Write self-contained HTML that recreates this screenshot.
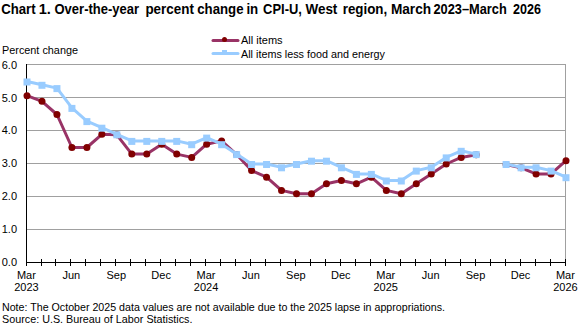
<!DOCTYPE html>
<html><head><meta charset="utf-8"><style>
html,body{margin:0;padding:0;background:#fff;}
body{width:586px;height:326px;overflow:hidden;}
svg{display:block;}
.t{font-family:"Liberation Sans",sans-serif;font-size:11px;fill:#000;}
.b{font-family:"Liberation Sans",sans-serif;font-size:14px;font-weight:bold;fill:#000;}
</style></head><body>
<svg width="586" height="326" viewBox="0 0 586 326">
<line x1="27" y1="229.5" x2="566" y2="229.5" stroke="#a0a0a0" stroke-width="1"/>
<line x1="27" y1="196.5" x2="566" y2="196.5" stroke="#a0a0a0" stroke-width="1"/>
<line x1="27" y1="163.5" x2="566" y2="163.5" stroke="#a0a0a0" stroke-width="1"/>
<line x1="27" y1="130.5" x2="566" y2="130.5" stroke="#a0a0a0" stroke-width="1"/>
<line x1="27" y1="97.5" x2="566" y2="97.5" stroke="#a0a0a0" stroke-width="1"/>
<line x1="27" y1="64.5" x2="566" y2="64.5" stroke="#a0a0a0" stroke-width="1"/>
<line x1="565.5" y1="64" x2="565.5" y2="262" stroke="#a0a0a0" stroke-width="1"/>
<line x1="26.5" y1="64" x2="26.5" y2="266" stroke="#000" stroke-width="1"/>
<line x1="26" y1="262.5" x2="566" y2="262.5" stroke="#000" stroke-width="1"/>
<line x1="26.5" y1="259" x2="26.5" y2="266" stroke="#000" stroke-width="1"/>
<line x1="41.5" y1="259" x2="41.5" y2="266" stroke="#000" stroke-width="1"/>
<line x1="55.5" y1="259" x2="55.5" y2="266" stroke="#000" stroke-width="1"/>
<line x1="70.5" y1="259" x2="70.5" y2="266" stroke="#000" stroke-width="1"/>
<line x1="85.5" y1="259" x2="85.5" y2="266" stroke="#000" stroke-width="1"/>
<line x1="100.5" y1="259" x2="100.5" y2="266" stroke="#000" stroke-width="1"/>
<line x1="115.5" y1="259" x2="115.5" y2="266" stroke="#000" stroke-width="1"/>
<line x1="130.5" y1="259" x2="130.5" y2="266" stroke="#000" stroke-width="1"/>
<line x1="145.5" y1="259" x2="145.5" y2="266" stroke="#000" stroke-width="1"/>
<line x1="160.5" y1="259" x2="160.5" y2="266" stroke="#000" stroke-width="1"/>
<line x1="175.5" y1="259" x2="175.5" y2="266" stroke="#000" stroke-width="1"/>
<line x1="190.5" y1="259" x2="190.5" y2="266" stroke="#000" stroke-width="1"/>
<line x1="205.5" y1="259" x2="205.5" y2="266" stroke="#000" stroke-width="1"/>
<line x1="220.5" y1="259" x2="220.5" y2="266" stroke="#000" stroke-width="1"/>
<line x1="235.5" y1="259" x2="235.5" y2="266" stroke="#000" stroke-width="1"/>
<line x1="250.5" y1="259" x2="250.5" y2="266" stroke="#000" stroke-width="1"/>
<line x1="265.5" y1="259" x2="265.5" y2="266" stroke="#000" stroke-width="1"/>
<line x1="280.5" y1="259" x2="280.5" y2="266" stroke="#000" stroke-width="1"/>
<line x1="295.5" y1="259" x2="295.5" y2="266" stroke="#000" stroke-width="1"/>
<line x1="310.5" y1="259" x2="310.5" y2="266" stroke="#000" stroke-width="1"/>
<line x1="325.5" y1="259" x2="325.5" y2="266" stroke="#000" stroke-width="1"/>
<line x1="340.5" y1="259" x2="340.5" y2="266" stroke="#000" stroke-width="1"/>
<line x1="355.5" y1="259" x2="355.5" y2="266" stroke="#000" stroke-width="1"/>
<line x1="370.5" y1="259" x2="370.5" y2="266" stroke="#000" stroke-width="1"/>
<line x1="385.5" y1="259" x2="385.5" y2="266" stroke="#000" stroke-width="1"/>
<line x1="400.5" y1="259" x2="400.5" y2="266" stroke="#000" stroke-width="1"/>
<line x1="415.5" y1="259" x2="415.5" y2="266" stroke="#000" stroke-width="1"/>
<line x1="430.5" y1="259" x2="430.5" y2="266" stroke="#000" stroke-width="1"/>
<line x1="445.5" y1="259" x2="445.5" y2="266" stroke="#000" stroke-width="1"/>
<line x1="460.5" y1="259" x2="460.5" y2="266" stroke="#000" stroke-width="1"/>
<line x1="475.5" y1="259" x2="475.5" y2="266" stroke="#000" stroke-width="1"/>
<line x1="490.5" y1="259" x2="490.5" y2="266" stroke="#000" stroke-width="1"/>
<line x1="505.5" y1="259" x2="505.5" y2="266" stroke="#000" stroke-width="1"/>
<line x1="520.5" y1="259" x2="520.5" y2="266" stroke="#000" stroke-width="1"/>
<line x1="535.5" y1="259" x2="535.5" y2="266" stroke="#000" stroke-width="1"/>
<line x1="550.5" y1="259" x2="550.5" y2="266" stroke="#000" stroke-width="1"/>
<line x1="565.5" y1="259" x2="565.5" y2="266" stroke="#000" stroke-width="1"/>
<text x="17" y="265.5" text-anchor="end" class="t">0.0</text>
<text x="17" y="232.5" text-anchor="end" class="t">1.0</text>
<text x="17" y="199.5" text-anchor="end" class="t">2.0</text>
<text x="17" y="166.5" text-anchor="end" class="t">3.0</text>
<text x="17" y="133.5" text-anchor="end" class="t">4.0</text>
<text x="17" y="101.5" text-anchor="end" class="t">5.0</text>
<text x="17" y="68.5" text-anchor="end" class="t">6.0</text>
<text x="26.4" y="279" text-anchor="middle" class="t">Mar</text>
<text x="26.4" y="291" text-anchor="middle" class="t">2023</text>
<text x="71.31666666666666" y="279" text-anchor="middle" class="t">Jun</text>
<text x="116.23333333333333" y="279" text-anchor="middle" class="t">Sep</text>
<text x="161.15" y="279" text-anchor="middle" class="t">Dec</text>
<text x="206.06666666666666" y="279" text-anchor="middle" class="t">Mar</text>
<text x="206.06666666666666" y="291" text-anchor="middle" class="t">2024</text>
<text x="250.98333333333332" y="279" text-anchor="middle" class="t">Jun</text>
<text x="295.9" y="279" text-anchor="middle" class="t">Sep</text>
<text x="340.8166666666666" y="279" text-anchor="middle" class="t">Dec</text>
<text x="385.7333333333333" y="279" text-anchor="middle" class="t">Mar</text>
<text x="385.7333333333333" y="291" text-anchor="middle" class="t">2025</text>
<text x="430.65" y="279" text-anchor="middle" class="t">Jun</text>
<text x="475.5666666666666" y="279" text-anchor="middle" class="t">Sep</text>
<text x="520.4833333333332" y="279" text-anchor="middle" class="t">Dec</text>
<text x="565.4" y="279" text-anchor="middle" class="t">Mar</text>
<text x="565.4" y="291" text-anchor="middle" class="t">2026</text>
<polyline points="27.0,95.69 41.97222222222222,101.30 56.94444444444444,114.50 71.91666666666666,147.50 86.88888888888889,147.50 101.86111111111111,134.30 116.83333333333333,134.80 131.80555555555554,154.10 146.77777777777777,154.10 161.75,144.20 176.72222222222223,154.10 191.69444444444443,157.40 206.66666666666666,144.20 221.63888888888889,140.90 236.6111111111111,154.59 251.58333333333331,170.60 266.55555555555554,177.20 281.52777777777777,190.40 296.5,193.70 311.47222222222223,193.70 326.44444444444446,183.80 341.41666666666663,180.50 356.38888888888886,183.80 371.3611111111111,177.20 386.3333333333333,190.40 401.30555555555554,193.70 416.27777777777777,183.80 431.25,173.90 446.2222222222222,164.00 461.1944444444444,157.40 476.16666666666663,154.76" fill="none" stroke="#993366" stroke-width="3" stroke-linejoin="round" stroke-linecap="round"/>
<polyline points="506.1111111111111,164.50 521.0833333333333,167.80 536.0555555555555,173.90 551.0277777777777,173.90 566.0,160.70" fill="none" stroke="#993366" stroke-width="3" stroke-linejoin="round" stroke-linecap="round"/>
<circle cx="27.0" cy="95.69" r="3.5" fill="#800000"/>
<circle cx="41.97222222222222" cy="101.30" r="3.5" fill="#800000"/>
<circle cx="56.94444444444444" cy="114.50" r="3.5" fill="#800000"/>
<circle cx="71.91666666666666" cy="147.50" r="3.5" fill="#800000"/>
<circle cx="86.88888888888889" cy="147.50" r="3.5" fill="#800000"/>
<circle cx="101.86111111111111" cy="134.30" r="3.5" fill="#800000"/>
<circle cx="116.83333333333333" cy="134.80" r="3.5" fill="#800000"/>
<circle cx="131.80555555555554" cy="154.10" r="3.5" fill="#800000"/>
<circle cx="146.77777777777777" cy="154.10" r="3.5" fill="#800000"/>
<circle cx="161.75" cy="144.20" r="3.5" fill="#800000"/>
<circle cx="176.72222222222223" cy="154.10" r="3.5" fill="#800000"/>
<circle cx="191.69444444444443" cy="157.40" r="3.5" fill="#800000"/>
<circle cx="206.66666666666666" cy="144.20" r="3.5" fill="#800000"/>
<circle cx="221.63888888888889" cy="140.90" r="3.5" fill="#800000"/>
<circle cx="236.6111111111111" cy="154.59" r="3.5" fill="#800000"/>
<circle cx="251.58333333333331" cy="170.60" r="3.5" fill="#800000"/>
<circle cx="266.55555555555554" cy="177.20" r="3.5" fill="#800000"/>
<circle cx="281.52777777777777" cy="190.40" r="3.5" fill="#800000"/>
<circle cx="296.5" cy="193.70" r="3.5" fill="#800000"/>
<circle cx="311.47222222222223" cy="193.70" r="3.5" fill="#800000"/>
<circle cx="326.44444444444446" cy="183.80" r="3.5" fill="#800000"/>
<circle cx="341.41666666666663" cy="180.50" r="3.5" fill="#800000"/>
<circle cx="356.38888888888886" cy="183.80" r="3.5" fill="#800000"/>
<circle cx="371.3611111111111" cy="177.20" r="3.5" fill="#800000"/>
<circle cx="386.3333333333333" cy="190.40" r="3.5" fill="#800000"/>
<circle cx="401.30555555555554" cy="193.70" r="3.5" fill="#800000"/>
<circle cx="416.27777777777777" cy="183.80" r="3.5" fill="#800000"/>
<circle cx="431.25" cy="173.90" r="3.5" fill="#800000"/>
<circle cx="446.2222222222222" cy="164.00" r="3.5" fill="#800000"/>
<circle cx="461.1944444444444" cy="157.40" r="3.5" fill="#800000"/>
<circle cx="476.16666666666663" cy="154.76" r="3.5" fill="#800000"/>
<circle cx="506.1111111111111" cy="164.50" r="3.5" fill="#800000"/>
<circle cx="521.0833333333333" cy="167.80" r="3.5" fill="#800000"/>
<circle cx="536.0555555555555" cy="173.90" r="3.5" fill="#800000"/>
<circle cx="551.0277777777777" cy="173.90" r="3.5" fill="#800000"/>
<circle cx="566.0" cy="160.70" r="3.5" fill="#800000"/>
<polyline points="27.0,81.50 41.97222222222222,84.80 56.94444444444444,88.10 71.91666666666666,107.90 86.88888888888889,121.10 101.86111111111111,127.70 116.83333333333333,134.30 131.80555555555554,140.90 146.77777777777777,140.90 161.75,140.90 176.72222222222223,140.90 191.69444444444443,144.20 206.66666666666666,137.60 221.63888888888889,144.20 236.6111111111111,154.10 251.58333333333331,164.00 266.55555555555554,164.00 281.52777777777777,167.30 296.5,164.00 311.47222222222223,160.70 326.44444444444446,160.70 341.41666666666663,167.30 356.38888888888886,173.90 371.3611111111111,173.90 386.3333333333333,180.50 401.30555555555554,180.50 416.27777777777777,170.60 431.25,167.30 446.2222222222222,157.40 461.1944444444444,150.80 476.16666666666663,154.10" fill="none" stroke="#99ccff" stroke-width="3" stroke-linejoin="round" stroke-linecap="round"/>
<polyline points="506.1111111111111,164.00 521.0833333333333,167.30 536.0555555555555,167.30 551.0277777777777,170.60 566.0,177.20" fill="none" stroke="#99ccff" stroke-width="3" stroke-linejoin="round" stroke-linecap="round"/>
<rect x="23.50" y="78.50" width="7" height="7" fill="#99ccff"/>
<rect x="38.47" y="81.80" width="7" height="7" fill="#99ccff"/>
<rect x="53.44" y="85.10" width="7" height="7" fill="#99ccff"/>
<rect x="68.42" y="104.90" width="7" height="7" fill="#99ccff"/>
<rect x="83.39" y="118.10" width="7" height="7" fill="#99ccff"/>
<rect x="98.36" y="124.70" width="7" height="7" fill="#99ccff"/>
<rect x="113.33" y="131.30" width="7" height="7" fill="#99ccff"/>
<rect x="128.31" y="137.90" width="7" height="7" fill="#99ccff"/>
<rect x="143.28" y="137.90" width="7" height="7" fill="#99ccff"/>
<rect x="158.25" y="137.90" width="7" height="7" fill="#99ccff"/>
<rect x="173.22" y="137.90" width="7" height="7" fill="#99ccff"/>
<rect x="188.19" y="141.20" width="7" height="7" fill="#99ccff"/>
<rect x="203.17" y="134.60" width="7" height="7" fill="#99ccff"/>
<rect x="218.14" y="141.20" width="7" height="7" fill="#99ccff"/>
<rect x="233.11" y="151.10" width="7" height="7" fill="#99ccff"/>
<rect x="248.08" y="161.00" width="7" height="7" fill="#99ccff"/>
<rect x="263.06" y="161.00" width="7" height="7" fill="#99ccff"/>
<rect x="278.03" y="164.30" width="7" height="7" fill="#99ccff"/>
<rect x="293.00" y="161.00" width="7" height="7" fill="#99ccff"/>
<rect x="307.97" y="157.70" width="7" height="7" fill="#99ccff"/>
<rect x="322.94" y="157.70" width="7" height="7" fill="#99ccff"/>
<rect x="337.92" y="164.30" width="7" height="7" fill="#99ccff"/>
<rect x="352.89" y="170.90" width="7" height="7" fill="#99ccff"/>
<rect x="367.86" y="170.90" width="7" height="7" fill="#99ccff"/>
<rect x="382.83" y="177.50" width="7" height="7" fill="#99ccff"/>
<rect x="397.81" y="177.50" width="7" height="7" fill="#99ccff"/>
<rect x="412.78" y="167.60" width="7" height="7" fill="#99ccff"/>
<rect x="427.75" y="164.30" width="7" height="7" fill="#99ccff"/>
<rect x="442.72" y="154.40" width="7" height="7" fill="#99ccff"/>
<rect x="457.69" y="147.80" width="7" height="7" fill="#99ccff"/>
<rect x="472.67" y="151.10" width="7" height="7" fill="#99ccff"/>
<rect x="502.61" y="161.00" width="7" height="7" fill="#99ccff"/>
<rect x="517.58" y="164.30" width="7" height="7" fill="#99ccff"/>
<rect x="532.56" y="164.30" width="7" height="7" fill="#99ccff"/>
<rect x="547.53" y="167.60" width="7" height="7" fill="#99ccff"/>
<rect x="562.50" y="174.20" width="7" height="7" fill="#99ccff"/>
<line x1="213" y1="40.5" x2="238" y2="40.5" stroke="#993366" stroke-width="3" stroke-linecap="round"/>
<circle cx="224.5" cy="39.5" r="2.5" fill="#800000"/>
<line x1="213" y1="53.5" x2="238" y2="53.5" stroke="#99ccff" stroke-width="3" stroke-linecap="round"/>
<rect x="222" y="50" width="5" height="4" fill="#99ccff"/>
<text x="241" y="44" class="t">All items</text>
<text x="241" y="57.5" class="t" textLength="144" lengthAdjust="spacingAndGlyphs">All items less food and energy</text>
<text transform="translate(1.20,14) scale(0.9426,1)" class="b">Chart</text>
<text transform="translate(38.70,14) scale(1.0427,1)" class="b">1.</text>
<text transform="translate(54.50,14) scale(0.9297,1)" class="b">Over-the-year</text>
<text transform="translate(145.40,14) scale(0.9605,1)" class="b">percent</text>
<text transform="translate(197.20,14) scale(0.9449,1)" class="b">change</text>
<text transform="translate(246.40,14) scale(0.9516,1)" class="b">in</text>
<text transform="translate(263.10,14) scale(0.9238,1)" class="b">CPI-U,</text>
<text transform="translate(305.40,14) scale(0.9639,1)" class="b">West</text>
<text transform="translate(342.70,14) scale(0.9550,1)" class="b">region,</text>
<text transform="translate(390.90,14) scale(0.9757,1)" class="b">March</text>
<text transform="translate(433.40,14) scale(0.9152,1)" class="b">2023–March</text>
<text transform="translate(513.10,14) scale(0.8971,1)" class="b">2026</text>
<text x="2" y="54" class="t" textLength="76" lengthAdjust="spacingAndGlyphs">Percent change</text>
<text x="2" y="311" class="t" textLength="443" lengthAdjust="spacingAndGlyphs">Note: The October 2025 data values are not available due to the 2025 lapse in appropriations.</text>
<text x="2" y="322.7" class="t" textLength="190.5" lengthAdjust="spacingAndGlyphs">Source: U.S. Bureau of Labor Statistics.</text>
</svg>
</body></html>
